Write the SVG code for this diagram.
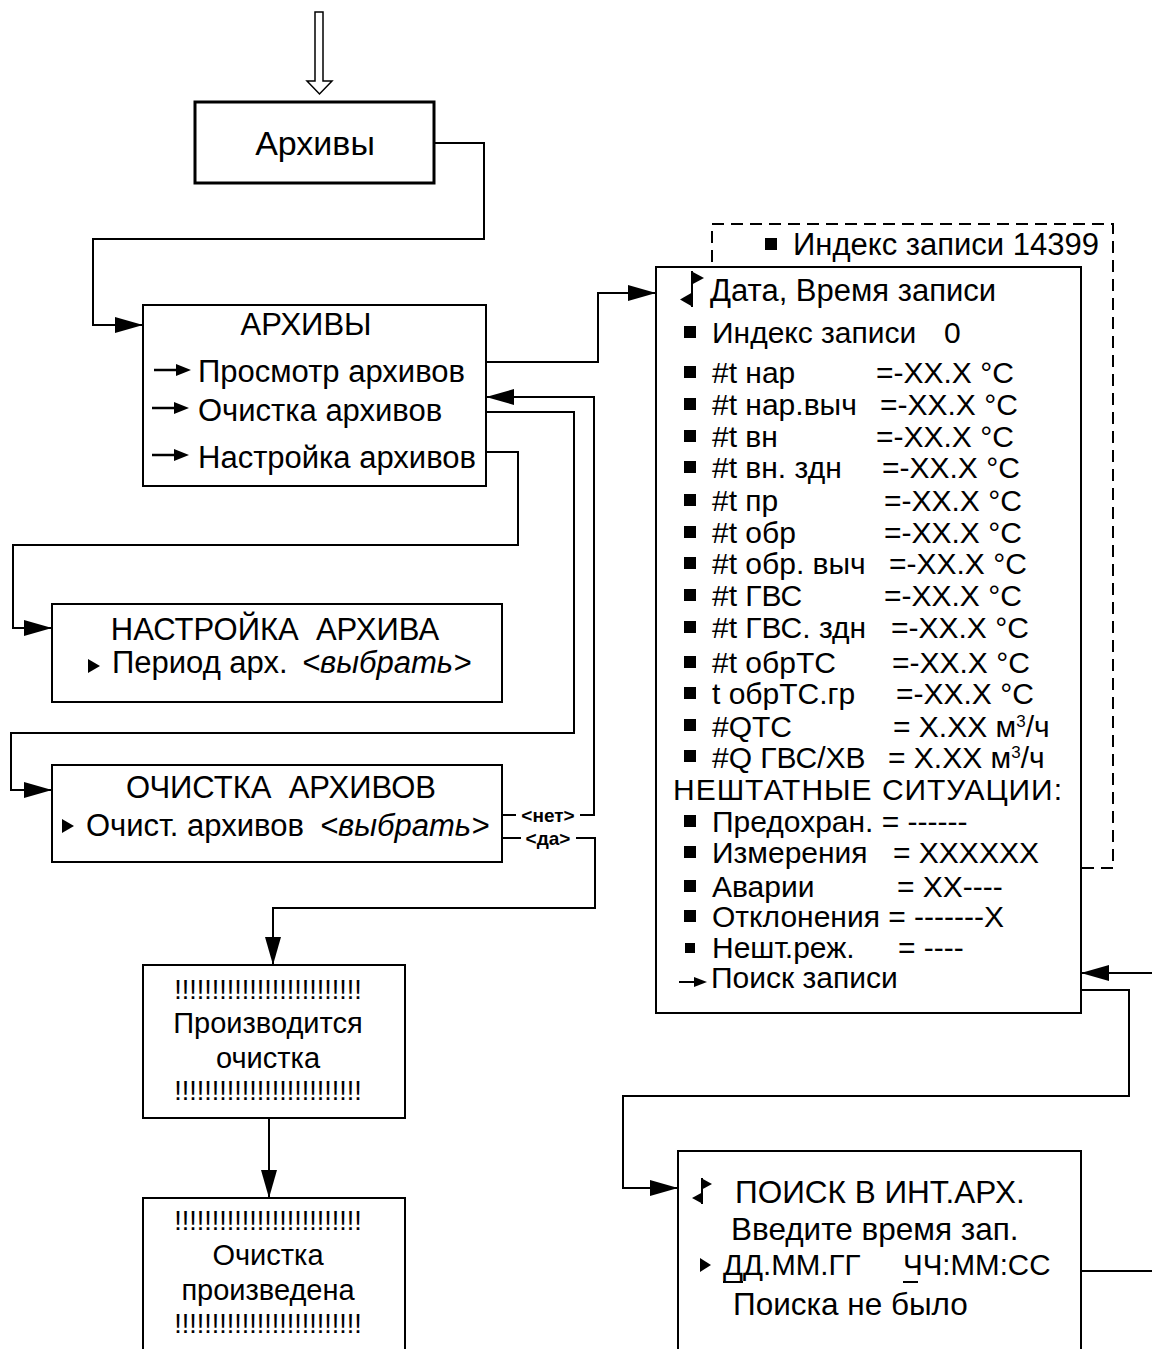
<svg xmlns="http://www.w3.org/2000/svg" width="1152" height="1349" viewBox="0 0 1152 1349">
<style>
text{font-family:"Liberation Sans",Arial,sans-serif;font-size:31px;fill:#000}
.box{fill:#fff;stroke:#000;stroke-width:2}
.thick{stroke-width:3}
.ln{fill:none;stroke:#000;stroke-width:2}
.arr{marker-end:url(#ah)}
.dash{fill:none;stroke:#000;stroke-width:2;stroke-dasharray:12 7}
.tri{fill:#000}
.it{font-style:italic}
.lbl{font-size:19px;font-weight:bold}
.exc{font-size:27px}
.mid{font-size:29px}
.sr{font-size:31.5px}
.row{font-size:30px}
.sup{font-size:17px}
</style>
<defs>
<marker id="ah" viewBox="0 0 28 16" refX="28" refY="8" markerWidth="28" markerHeight="16" markerUnits="userSpaceOnUse" orient="auto">
<path d="M0,0 L28,8 L0,16 z" fill="#000"/>
</marker>
<g id="smallarrow"><line x1="0" y1="0" x2="24" y2="0" stroke="#000" stroke-width="2.5"/><path d="M22,-6 L37,0 L22,6 z" fill="#000"/></g>
<rect id="bul" width="12" height="12" fill="#000"/>
</defs>
<rect width="1152" height="1349" fill="#fff"/>

<g id="entry">
<polygon points="315,12 323,12 323,81 332,81 319.5,94 307,81 315,81" fill="#fff" stroke="#000" stroke-width="1.5"/>
</g>

<g id="connectors">
<path class="ln arr" d="M434,143 H484 V239 H93 V325 H143"/>
<path class="ln arr" d="M486,362 H598 V293 H656"/>
<path class="ln arr" d="M486,412 H574 V733 H11 V790 H52"/>
<path class="ln arr" d="M486,452 H518 V545 H13 V628 H52"/>
<path class="ln" d="M502,815 H516"/>
<path class="ln arr" d="M580,815 H594 V397 H486"/>
<path class="ln" d="M502,838 H521"/>
<path class="ln arr" d="M576,838 H595 V908 H273 V965"/>
<path class="ln arr" d="M269,1118 V1198"/>
<path class="ln arr" d="M1081,990 H1129 V1096 H623 V1188 H678"/>
<path class="ln arr" d="M1152,973 H1081"/>
<path class="ln" d="M1081,1271 H1152"/>
<text class="lbl" x="548" y="822" text-anchor="middle">&lt;нет&gt;</text>
<text class="lbl" x="548" y="845" text-anchor="middle">&lt;да&gt;</text>
</g>

<g id="node-arhivy">
<rect class="box thick" x="195" y="102" width="239" height="81"/>
<text x="315" y="155" text-anchor="middle" style="font-size:34px">Архивы</text>
</g>

<g id="node-menu">
<rect class="box" x="143" y="305" width="343" height="181"/>
<text x="306" y="335" text-anchor="middle">АРХИВЫ</text>
<use href="#smallarrow" x="154" y="370"/>
<text x="198" y="382">Просмотр архивов</text>
<use href="#smallarrow" x="152" y="408"/>
<text x="198" y="421">Очистка архивов</text>
<use href="#smallarrow" x="152" y="455"/>
<text x="198" y="468">Настройка архивов</text>
</g>

<g id="node-nastroyka">
<rect class="box" x="52" y="604" width="450" height="98"/>
<text x="275" y="640" text-anchor="middle" xml:space="preserve">НАСТРОЙКА  АРХИВА</text>
<path class="tri" d="M88,659 L100,666 L88,673 z"/>
<text x="112" y="673">Период арх.</text>
<text class="it" x="302" y="673">&lt;выбрать&gt;</text>
</g>

<g id="node-ochistka">
<rect class="box" x="52" y="765" width="450" height="97"/>
<text x="281" y="798" text-anchor="middle" xml:space="preserve">ОЧИСТКА  АРХИВОВ</text>
<path class="tri" d="M62,819 L74,826 L62,833 z"/>
<text x="86" y="836">Очист. архивов</text>
<text class="it" x="320" y="836">&lt;выбрать&gt;</text>
</g>

<g id="node-proizv">
<rect class="box" x="143" y="965" width="262" height="153"/>
<text class="exc" x="268" y="999" text-anchor="middle">!!!!!!!!!!!!!!!!!!!!!!!!!</text>
<text class="mid" x="268" y="1033" text-anchor="middle">Производится</text>
<text class="mid" x="268" y="1068" text-anchor="middle">очистка</text>
<text class="exc" x="268" y="1100" text-anchor="middle">!!!!!!!!!!!!!!!!!!!!!!!!!</text>
</g>

<g id="node-proizvedena">
<rect class="box" x="143" y="1198" width="262" height="170"/>
<text class="exc" x="268" y="1230" text-anchor="middle">!!!!!!!!!!!!!!!!!!!!!!!!!</text>
<text class="mid" x="268" y="1265" text-anchor="middle">Очистка</text>
<text class="mid" x="268" y="1300" text-anchor="middle">произведена</text>
<text class="exc" x="268" y="1333" text-anchor="middle">!!!!!!!!!!!!!!!!!!!!!!!!!</text>
</g>

<g id="node-index-last">
<rect class="dash" x="712" y="224" width="401" height="644"/>
<use href="#bul" x="765" y="238"/>
<text x="793" y="255">Индекс записи 14399</text>
</g>

<g id="node-record">
<rect class="box" x="656" y="267" width="425" height="746"/>
<line x1="692" y1="271" x2="692" y2="307" stroke="#000" stroke-width="2"/>
<path class="tri" d="M691,271 L704,278 L691,285 z"/>
<path class="tri" d="M693,292 L680,299.5 L693,307 z"/>
<text x="710" y="301">Дата, Время записи</text>
<use href="#bul" x="684" y="326"/>
<text class="row" x="712" y="343">Индекс записи<tspan x="944">0</tspan></text>
<use href="#bul" x="684" y="366"/><text class="row" x="712" y="383">#t нар<tspan x="876">=-XX.X °C</tspan></text>
<use href="#bul" x="684" y="398"/><text class="row" x="712" y="415">#t нар.выч<tspan x="880">=-XX.X °C</tspan></text>
<use href="#bul" x="684" y="430"/><text class="row" x="712" y="447">#t вн<tspan x="876">=-XX.X °C</tspan></text>
<use href="#bul" x="684" y="461"/><text class="row" x="712" y="478">#t вн. здн<tspan x="882">=-XX.X °C</tspan></text>
<use href="#bul" x="684" y="494"/><text class="row" x="712" y="511">#t пр<tspan x="884">=-XX.X °C</tspan></text>
<use href="#bul" x="684" y="526"/><text class="row" x="712" y="543">#t обр<tspan x="884">=-XX.X °C</tspan></text>
<use href="#bul" x="684" y="557"/><text class="row" x="712" y="574">#t обр. выч<tspan x="889">=-XX.X °C</tspan></text>
<use href="#bul" x="684" y="589"/><text class="row" x="712" y="606">#t ГВС<tspan x="884">=-XX.X °C</tspan></text>
<use href="#bul" x="684" y="621"/><text class="row" x="712" y="638">#t ГВС. здн<tspan x="891">=-XX.X °C</tspan></text>
<use href="#bul" x="684" y="656"/><text class="row" x="712" y="673">#t обрТС<tspan x="892">=-XX.X °C</tspan></text>
<use href="#bul" x="684" y="687"/><text class="row" x="712" y="704">t обрТС.гр<tspan x="896">=-XX.X °C</tspan></text>
<use href="#bul" x="684" y="719"/><text class="row" x="712" y="737">#QTC<tspan x="893">= X.XX м</tspan><tspan class="sup" dy="-10">3</tspan><tspan dy="10">/ч</tspan></text>
<use href="#bul" x="684" y="750"/><text class="row" x="712" y="768">#Q ГВС/ХВ<tspan x="888">= X.XX м</tspan><tspan class="sup" dy="-10">3</tspan><tspan dy="10">/ч</tspan></text>
<text class="row" x="673" y="800" textLength="389">НЕШТАТНЫЕ СИТУАЦИИ:</text>
<use href="#bul" x="684" y="815"/><text class="row" x="712" y="832">Предохран. = ------</text>
<use href="#bul" x="684" y="846"/><text class="row" x="712" y="863">Измерения<tspan x="893">= XXXXXX</tspan></text>
<use href="#bul" x="684" y="880"/><text class="row" x="712" y="897">Аварии<tspan x="897">= XX----</tspan></text>
<use href="#bul" x="684" y="910"/><text class="row" x="712" y="927">Отклонения = -------X</text>
<rect x="685" y="943" width="10" height="10" fill="#000"/><text class="row" x="712" y="958">Нешт.реж.<tspan x="898">= ----</tspan></text>
<line x1="679" y1="982" x2="698" y2="982" stroke="#000" stroke-width="2"/>
<path class="tri" d="M694,977 L707,982 L694,987 z"/>
<text class="row" x="711" y="988">Поиск записи</text>
</g>

<g id="node-search">
<rect class="box" x="678" y="1151" width="403" height="220"/>
<line x1="702" y1="1178" x2="702" y2="1204" stroke="#000" stroke-width="2"/>
<path class="tri" d="M701,1178 L712,1184 L701,1190 z"/>
<path class="tri" d="M703,1192 L692,1198 L703,1204 z"/>
<text class="sr" x="735" y="1203">ПОИСК В ИНТ.АРХ.</text>
<text class="sr" x="731" y="1240">Введите время зап.</text>
<path class="tri" d="M700,1258 L711,1265 L700,1272 z"/>
<text x="723" y="1275" style="font-size:29.5px">ДД.ММ.ГГ<tspan x="903">ЧЧ:ММ:СС</tspan></text>
<line x1="723" y1="1282" x2="743" y2="1282" stroke="#000" stroke-width="2"/>
<line x1="903" y1="1282" x2="918" y2="1282" stroke="#000" stroke-width="2"/>
<text class="sr" x="733" y="1315">Поиска не было</text>
</g>
</svg>
